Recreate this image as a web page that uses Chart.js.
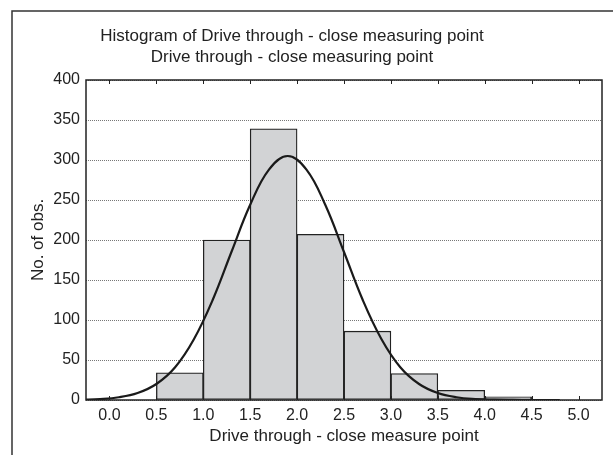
<!DOCTYPE html>
<html>
<head>
<meta charset="utf-8">
<script src="https://cdn.jsdelivr.net/npm/chart.js@4"></script>
<style>
  html, body { margin: 0; padding: 0; background: #fff; }
  #wrap { width: 613px; height: 455px; position: relative; }
</style>
</head>
<body>
<div id="wrap"><canvas id="histChart"></canvas></div>
<script>
const titleLines = ['Histogram of Drive through - close measuring point', 'Drive through - close measuring point'];
const xAxisTitle = 'Drive through - close measure point';
const yAxisTitle = 'No. of obs.';

// histogram bins (centres of 0.5 wide classes) and counts
const binCenters = [0.75, 1.25, 1.75, 2.25, 2.75, 3.25, 3.75, 4.25];
const binCounts = [34, 200, 339, 207, 86, 33, 12, 4];

// fitted normal curve
const curveX = [-0.3, -0.1, 0.1, 0.3, 0.5, 0.7, 0.9, 1.1, 1.3, 1.5, 1.7, 1.9, 2.1, 2.3, 2.5, 2.7, 2.9, 3.1, 3.3, 3.5, 3.7, 3.9, 4.1, 4.3, 4.5, 4.7, 4.8];
const curveY = [0.4, 1.2, 3.4, 8.7, 20, 41, 76, 125, 185, 244, 288, 305, 288, 244, 185, 125, 76, 41, 20, 8.7, 3.4, 1.2, 0.4, 0.1, 0, 0, 0];

const xTickValues = [0.0, 0.5, 1.0, 1.5, 2.0, 2.5, 3.0, 3.5, 4.0, 4.5, 5.0];
const yTickValues = [0, 50, 100, 150, 200, 250, 300, 350, 400];

const FONT = "'Liberation Sans', Arial, sans-serif";
Chart.defaults.font.family = FONT;
Chart.defaults.color = '#222';

const framePlugin = {
  id: 'frame',
  beforeDraw(chart) {
    const ctx = chart.ctx;
    ctx.save();
    ctx.fillStyle = '#fff';
    ctx.fillRect(0, 0, chart.width, chart.height);
    ctx.strokeStyle = '#333';
    ctx.lineWidth = 1.5;
    ctx.beginPath();
    ctx.moveTo(12, chart.height);
    ctx.lineTo(12, 11);
    ctx.lineTo(chart.width, 11);
    ctx.stroke();
    ctx.restore();
  },
  afterDraw(chart) {
    const ctx = chart.ctx;
    const a = chart.chartArea;
    const xs = chart.scales.x;
    ctx.save();
    ctx.strokeStyle = '#222';
    ctx.lineWidth = 1.5;
    ctx.strokeRect(a.left, a.top, a.right - a.left, a.bottom - a.top);
    ctx.lineWidth = 1;
    ctx.beginPath();
    xTickValues.forEach(v => {
      const px = Math.round(xs.getPixelForValue(v)) + 0.5;
      ctx.moveTo(px, a.top);
      ctx.lineTo(px, a.top + 4);
      ctx.moveTo(px, a.bottom);
      ctx.lineTo(px, a.bottom - 4);
    });
    ctx.stroke();
    ctx.fillStyle = '#222';
    ctx.font = '17px ' + FONT;
    ctx.textAlign = 'center';
    ctx.textBaseline = 'middle';
    ctx.fillText(titleLines[0], 292, 36);
    ctx.fillText(titleLines[1], 292, 57);
    ctx.restore();
  }
};

new Chart(document.getElementById('histChart'), {
  data: {
    datasets: [
      {
        type: 'line',
        data: curveX.map((x, i) => ({ x: x, y: curveY[i] })),
        borderColor: '#1a1a1a',
        borderWidth: 2.2,
        pointRadius: 0,
        tension: 0.4,
        fill: false,
        order: 0
      },
      {
        type: 'bar',
        data: binCenters.map((x, i) => ({ x: x, y: binCounts[i] })),
        backgroundColor: '#d2d3d5',
        borderColor: '#222',
        borderWidth: 1.3,
        borderSkipped: false,
        barPercentage: 1,
        categoryPercentage: 1,
        order: 1
      }
    ]
  },
  options: {
    responsive: true,
    maintainAspectRatio: false,
    animation: false,
    layout: { padding: { top: 80, right: 11, left: 0, bottom: 0 } },
    plugins: {
      legend: { display: false },
      tooltip: { enabled: false }
    },
    scales: {
      x: {
        type: 'linear',
        offset: false,
        min: -0.25,
        max: 5.25,
        afterBuildTicks: scale => { scale.ticks = xTickValues.map(v => ({ value: v })); },
        afterFit: scale => { scale.height = 55; },
        ticks: {
          autoSkip: false,
          maxRotation: 0,
          padding: 6,
          font: { size: 16 },
          callback: v => Number(v).toFixed(1)
        },
        grid: { display: false, drawTicks: false },
        border: { display: false },
        title: {
          display: true,
          text: xAxisTitle,
          font: { size: 17 },
          padding: { top: 0, bottom: 8 }
        }
      },
      y: {
        min: 0,
        max: 400,
        afterBuildTicks: scale => { scale.ticks = yTickValues.map(v => ({ value: v })); },
        afterFit: scale => { scale.width = 86; },
        ticks: { padding: 6, font: { size: 16 } },
        grid: { color: '#777', lineWidth: 1, drawTicks: false },
        border: { display: false, dash: [1, 1] },
        title: {
          display: true,
          text: yAxisTitle,
          font: { size: 17 },
          padding: { top: 28, bottom: 0 }
        }
      }
    }
  },
  plugins: [framePlugin]
});
</script>
</body>
</html>
